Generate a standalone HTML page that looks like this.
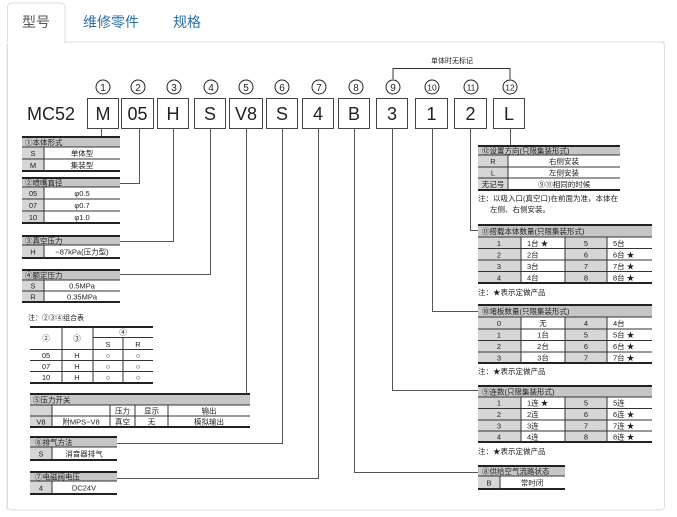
<!DOCTYPE html>
<html><head><meta charset="utf-8"><style>
html,body{margin:0;padding:0;background:#fff;}
svg{display:block;font-family:"Liberation Sans","Noto Sans CJK SC",sans-serif;}
.t{font-size:7.5px;fill:#222;}
.c{font-size:7.5px;fill:#222;text-anchor:middle;}
.h{fill:#c6c6c6;}
.g{fill:#d6d6d6;}
.L{stroke:#333;stroke-width:1;fill:none;}
.T{stroke:#222;stroke-width:2;fill:none;}
.W{stroke:#fff;stroke-width:1;}
.cn{stroke:#555;stroke-width:1;fill:none;}
.bx{fill:#fff;stroke:#444;stroke-width:1;}
.bt{font-size:18px;fill:#222;text-anchor:middle;}
.cir{fill:#fff;stroke:#222;stroke-width:1;}
.cn2{font-size:10px;fill:#222;text-anchor:middle;}
</style></head><body>
<svg width="677" height="517" viewBox="0 0 677 517" xmlns="http://www.w3.org/2000/svg">
<!-- tabs & panel -->
<path d="M7 510 V46 a4 4 0 0 1 4-4 H665" fill="none" stroke="#ddd"/>
<rect x="7.5" y="42" width="657" height="468" rx="4" fill="none" stroke="#ddd"/>
<path d="M7.5 42 V7 a4 4 0 0 1 4-4 H61 a4 4 0 0 1 4 4 V43" fill="#fff" stroke="#ddd"/>
<rect x="8" y="40" width="56.5" height="4" fill="#fff"/>
<text x="22" y="27" style="font-size:14px;fill:#555">型号</text>
<text x="83" y="27" style="font-size:14px;fill:#2a6fa8">维修零件</text>
<text x="173" y="27" style="font-size:14px;fill:#2a6fa8">规格</text>

<!-- header code -->
<text x="27" y="120" style="font-size:18px;fill:#222">MC52</text>
<g>
<rect class="bx" x="87.5" y="98.5" width="31" height="30"/><text class="bt" x="103" y="120">M</text>
<rect class="bx" x="121.5" y="98.5" width="32" height="30"/><text class="bt" x="137.5" y="120">05</text>
<rect class="bx" x="157.5" y="98.5" width="31" height="30"/><text class="bt" x="173" y="120">H</text>
<rect class="bx" x="194.5" y="98.5" width="31" height="30"/><text class="bt" x="210" y="120">S</text>
<rect class="bx" x="229.5" y="98.5" width="33" height="30"/><text class="bt" x="246" y="120">V8</text>
<rect class="bx" x="266.5" y="98.5" width="31" height="30"/><text class="bt" x="282" y="120">S</text>
<rect class="bx" x="302.5" y="98.5" width="31" height="30"/><text class="bt" x="318" y="120">4</text>
<rect class="bx" x="338.5" y="98.5" width="31" height="30"/><text class="bt" x="354" y="120">B</text>
<rect class="bx" x="376.5" y="98.5" width="31" height="30"/><text class="bt" x="392" y="120">3</text>
<rect class="bx" x="415.5" y="98.5" width="32" height="30"/><text class="bt" x="431.5" y="120">1</text>
<rect class="bx" x="454.5" y="98.5" width="32" height="30"/><text class="bt" x="470.5" y="120">2</text>
<rect class="bx" x="493.5" y="98.5" width="31" height="30"/><text class="bt" x="509" y="120">L</text>
</g>
<g>
<circle class="cir" cx="103" cy="87" r="7"/><text class="cn2" x="103" y="91">1</text>
<circle class="cir" cx="138" cy="87" r="7"/><text class="cn2" x="138" y="91">2</text>
<circle class="cir" cx="174" cy="87" r="7"/><text class="cn2" x="174" y="91">3</text>
<circle class="cir" cx="211" cy="87" r="7"/><text class="cn2" x="211" y="91">4</text>
<circle class="cir" cx="246" cy="87" r="7"/><text class="cn2" x="246" y="91">5</text>
<circle class="cir" cx="282" cy="87" r="7"/><text class="cn2" x="282" y="91">6</text>
<circle class="cir" cx="319" cy="87" r="7"/><text class="cn2" x="319" y="91">7</text>
<circle class="cir" cx="356" cy="87" r="7"/><text class="cn2" x="356" y="91">8</text>
<circle class="cir" cx="393" cy="87" r="7"/><text class="cn2" x="393" y="91">9</text>
<circle class="cir" cx="432" cy="87" r="7"/><text class="cn2" x="432" y="90.5" style="font-size:8.5px">10</text>
<circle class="cir" cx="471" cy="87" r="7"/><text class="cn2" x="471" y="90.5" style="font-size:8.5px">11</text>
<circle class="cir" cx="510" cy="87" r="7"/><text class="cn2" x="510" y="90.5" style="font-size:8.5px">12</text>
</g>
<path class="L" d="M393 79 V68.5 H510 V79"/>
<text x="452" y="63" class="c" style="font-size:7px">单体时无标记</text>

<!-- connectors -->
<path class="cn" d="M101.5 128 V137"/>
<path class="cn" d="M139.5 128 V183.5 H120"/>
<path class="cn" d="M173.5 128 V241.5 H120"/>
<path class="cn" d="M210.5 128 V274.5 H120"/>
<path class="cn" d="M246.5 128 V394"/>
<path class="cn" d="M282.5 128 V443.5 H117"/>
<path class="cn" d="M318.5 128 V478.5 H117"/>
<path class="cn" d="M354.5 128 V472.5 H478"/>
<path class="cn" d="M392.5 128 V390.5 H478"/>
<path class="cn" d="M432.5 128 V311.5 H478"/>
<path class="cn" d="M470.5 128 V230.5 H478"/>
<path class="cn" d="M510.5 128 V146"/>

<!-- ① -->
<rect class="h" x="22" y="137" width="98" height="10"/>
<rect class="g" x="22" y="147" width="22" height="24"/>
<path class="T" d="M22 137 H120"/><path class="L" d="M22 147 H120 M22 159 H120"/><path class="T" d="M22 171 H120"/><path class="L" d="M44 147 V171"/>
<text class="t" x="25" y="145">①本体形式</text>
<text class="c" x="33" y="156">S</text><text class="c" x="82" y="156">单体型</text>
<text class="c" x="33" y="168">M</text><text class="c" x="82" y="168">集装型</text>
<!-- ② -->
<rect class="h" x="22" y="178" width="98" height="9"/>
<rect class="g" x="22" y="187" width="22" height="36"/>
<path class="T" d="M22 178 H120"/><path class="L" d="M22 187 H120 M22 199 H120 M22 211 H120"/><path class="T" d="M22 223 H120"/><path class="L" d="M44 187 V223"/>
<text class="t" x="25" y="185.5">②喷嘴直径</text>
<text class="c" x="33" y="196">05</text><text class="c" x="82" y="196">φ0.5</text>
<text class="c" x="33" y="208">07</text><text class="c" x="82" y="208">φ0.7</text>
<text class="c" x="33" y="220">10</text><text class="c" x="82" y="220">φ1.0</text>
<!-- ③ -->
<rect class="h" x="22" y="236" width="98" height="9"/>
<rect class="g" x="22" y="245" width="22" height="13"/>
<path class="T" d="M22 236 H120"/><path class="L" d="M22 245 H120"/><path class="T" d="M22 258 H120"/><path class="L" d="M44 245 V258"/>
<text class="t" x="25" y="243.5">③真空压力</text>
<text class="c" x="33" y="254.5">H</text><text class="c" x="82" y="254.5">−87kPa(压力型)</text>
<!-- ④ -->
<rect class="h" x="22" y="270" width="98" height="10"/>
<rect class="g" x="22" y="280" width="22" height="22"/>
<path class="T" d="M22 270 H120"/><path class="L" d="M22 280 H120 M22 291 H120"/><path class="T" d="M22 302 H120"/><path class="L" d="M44 280 V302"/>
<text class="t" x="25" y="278">④额定压力</text>
<text class="c" x="33" y="288.5">S</text><text class="c" x="82" y="288.5">0.5MPa</text>
<text class="c" x="33" y="299.5">R</text><text class="c" x="82" y="299.5">0.35MPa</text>

<!-- combo -->
<text class="t" x="28" y="320" style="font-size:7px">注：②③④组合表</text>
<path class="T" d="M30 327 H153"/><path class="L" d="M93 337.5 H153 M30 349.5 H153 M30 360.5 H153 M30 371.5 H153"/><path class="T" d="M30 383 H153"/>
<path class="L" d="M62 327 V383 M93 327 V383 M123 337.5 V383"/>
<text class="c" x="46" y="341">②</text><text class="c" x="77" y="341">③</text><text class="c" x="123" y="335">④</text>
<text class="c" x="108" y="347">S</text><text class="c" x="138" y="347">R</text>
<text class="c" x="46" y="358">05</text><text class="c" x="77" y="358">H</text><text class="c" x="108" y="358">○</text><text class="c" x="138" y="358">○</text>
<text class="c" x="46" y="369">07</text><text class="c" x="77" y="369">H</text><text class="c" x="108" y="369">○</text><text class="c" x="138" y="369">○</text>
<text class="c" x="46" y="380">10</text><text class="c" x="77" y="380">H</text><text class="c" x="108" y="380">○</text><text class="c" x="138" y="380">○</text>

<!-- ⑤ -->
<rect class="h" x="30" y="394" width="220" height="11"/>
<rect class="g" x="30" y="405" width="22" height="22"/>
<path class="T" d="M30 394 H250"/><path class="L" d="M30 405 H250 M30 416 H250"/><path class="T" d="M30 427 H250"/>
<path class="L" d="M52 405 V427 M110 405 V427 M135 405 V427 M168 405 V427"/>
<text class="t" x="33" y="402.5">⑤压力开关</text>
<text class="c" x="122.5" y="413.5">压力</text><text class="c" x="151.5" y="413.5">显示</text><text class="c" x="209" y="413.5">输出</text>
<text class="c" x="41" y="424.5">V8</text><text class="c" x="81" y="424.5">附MPS−V8</text><text class="c" x="122.5" y="424.5">真空</text><text class="c" x="151.5" y="424.5">无</text><text class="c" x="209" y="424.5">模拟输出</text>
<!-- ⑥ -->
<rect class="h" x="30" y="437" width="87" height="10"/>
<rect class="g" x="30" y="447" width="22" height="13"/>
<path class="T" d="M30 437 H117"/><path class="L" d="M30 447 H117"/><path class="T" d="M30 460 H117"/><path class="L" d="M52 447 V460"/>
<text class="t" x="35" y="445">⑥排气方法</text>
<text class="c" x="41" y="456.5">S</text><text class="c" x="84" y="456.5">消音器排气</text>
<!-- ⑦ -->
<rect class="h" x="30" y="472" width="87" height="9"/>
<rect class="g" x="30" y="481" width="22" height="13"/>
<path class="T" d="M30 472 H117"/><path class="L" d="M30 481 H117"/><path class="T" d="M30 494 H117"/><path class="L" d="M52 481 V494"/>
<text class="t" x="35" y="479.5">⑦电磁阀电压</text>
<text class="c" x="41" y="490.5">4</text><text class="c" x="84" y="490.5">DC24V</text>

<!-- ⑫ -->
<rect class="h" x="478" y="146" width="142" height="9"/>
<rect class="g" x="478" y="155" width="30" height="35"/>
<path class="T" d="M478 146 H620"/><path class="L" d="M478 155 H620 M478 167 H620 M478 178 H620"/><path class="T" d="M478 190 H620"/><path class="L" d="M508 155 V190"/>
<text class="t" x="482" y="153.5">⑫设置方向(只限集装形式)</text>
<text class="c" x="493" y="164">R</text><text class="c" x="564" y="164">右侧安装</text>
<text class="c" x="493" y="175.5">L</text><text class="c" x="564" y="175.5">左侧安装</text>
<text class="c" x="493" y="187">无记号</text><text class="c" x="564" y="187">⑨⑪相同的时候</text>
<text class="t" x="478" y="201">注：以吸入口(真空口)在前面为准，本体在</text>
<text class="t" x="490" y="212">左侧、右侧安装。</text>

<!-- ⑪ -->
<rect class="h" x="478" y="225" width="174" height="12"/>
<rect class="g" x="478" y="237" width="43" height="46"/><rect class="g" x="565" y="237" width="42" height="46"/>
<path class="T" d="M478 225 H652"/><path class="L" d="M478 237 H652 M478 248.5 H652 M478 260 H652 M478 271.5 H652"/><path class="T" d="M478 283 H652"/>
<path class="L" d="M521 237 V283 M565 237 V283 M607 237 V283"/>
<text class="t" x="482" y="234">⑪搭载本体数量(只限集装形式)</text>
<text class="c" x="499" y="246">1</text><text class="t" x="527" y="246">1台 ★</text><text class="c" x="586" y="246">5</text><text class="t" x="613" y="246">5台</text>
<text class="c" x="499" y="257.5">2</text><text class="t" x="527" y="257.5">2台</text><text class="c" x="586" y="257.5">6</text><text class="t" x="613" y="257.5">6台 ★</text>
<text class="c" x="499" y="269">3</text><text class="t" x="527" y="269">3台</text><text class="c" x="586" y="269">7</text><text class="t" x="613" y="269">7台 ★</text>
<text class="c" x="499" y="280.5">4</text><text class="t" x="527" y="280.5">4台</text><text class="c" x="586" y="280.5">8</text><text class="t" x="613" y="280.5">8台 ★</text>
<text class="t" x="478" y="295">注：★表示定做产品</text>

<!-- ⑩ -->
<rect class="h" x="478" y="305" width="174" height="12"/>
<rect class="g" x="478" y="317" width="43" height="46"/><rect class="g" x="565" y="317" width="42" height="46"/>
<path class="T" d="M478 305 H652"/><path class="L" d="M478 317 H652 M478 329 H652 M478 340.5 H652 M478 352 H652"/><path class="T" d="M478 363 H652"/>
<path class="L" d="M521 317 V363 M565 317 V363 M607 317 V363"/>
<text class="t" x="482" y="314">⑩堵板数量(只限集装形式)</text>
<text class="c" x="499" y="326">0</text><text class="c" x="543" y="326">无</text><text class="c" x="586" y="326">4</text><text class="t" x="613" y="326">4台</text>
<text class="c" x="499" y="337.5">1</text><text class="c" x="543" y="337.5">1台</text><text class="c" x="586" y="337.5">5</text><text class="t" x="613" y="337.5">5台 ★</text>
<text class="c" x="499" y="349">2</text><text class="c" x="543" y="349">2台</text><text class="c" x="586" y="349">6</text><text class="t" x="613" y="349">6台 ★</text>
<text class="c" x="499" y="360.5">3</text><text class="c" x="543" y="360.5">3台</text><text class="c" x="586" y="360.5">7</text><text class="t" x="613" y="360.5">7台 ★</text>
<text class="t" x="478" y="374">注：★表示定做产品</text>

<!-- ⑨ -->
<rect class="h" x="478" y="386" width="174" height="11"/>
<rect class="g" x="478" y="397" width="43" height="45"/><rect class="g" x="565" y="397" width="42" height="45"/>
<path class="T" d="M478 386 H652"/><path class="L" d="M478 397 H652 M478 408.5 H652 M478 420 H652 M478 431 H652"/><path class="T" d="M478 442 H652"/>
<path class="L" d="M521 397 V442 M565 397 V442 M607 397 V442"/>
<text class="t" x="482" y="394.5">⑨连数(只限集装形式)</text>
<text class="c" x="499" y="405.5">1</text><text class="t" x="527" y="405.5">1连 ★</text><text class="c" x="586" y="405.5">5</text><text class="t" x="613" y="405.5">5连</text>
<text class="c" x="499" y="417">2</text><text class="t" x="527" y="417">2连</text><text class="c" x="586" y="417">6</text><text class="t" x="613" y="417">6连 ★</text>
<text class="c" x="499" y="428.5">3</text><text class="t" x="527" y="428.5">3连</text><text class="c" x="586" y="428.5">7</text><text class="t" x="613" y="428.5">7连 ★</text>
<text class="c" x="499" y="439.5">4</text><text class="t" x="527" y="439.5">4连</text><text class="c" x="586" y="439.5">8</text><text class="t" x="613" y="439.5">8连 ★</text>
<text class="t" x="478" y="454">注：★表示定做产品</text>

<!-- ⑧ -->
<rect class="h" x="478" y="466" width="87" height="10"/>
<rect class="g" x="478" y="476" width="22" height="13"/>
<path class="T" d="M478 466 H565"/><path class="L" d="M478 476 H565"/><path class="T" d="M478 489 H565"/><path class="L" d="M500 476 V489"/>
<text class="t" x="482" y="474">⑧供给空气流路状态</text>
<text class="c" x="489" y="485.5">B</text><text class="c" x="532" y="485.5">常时闭</text>
</svg>
</body></html>
